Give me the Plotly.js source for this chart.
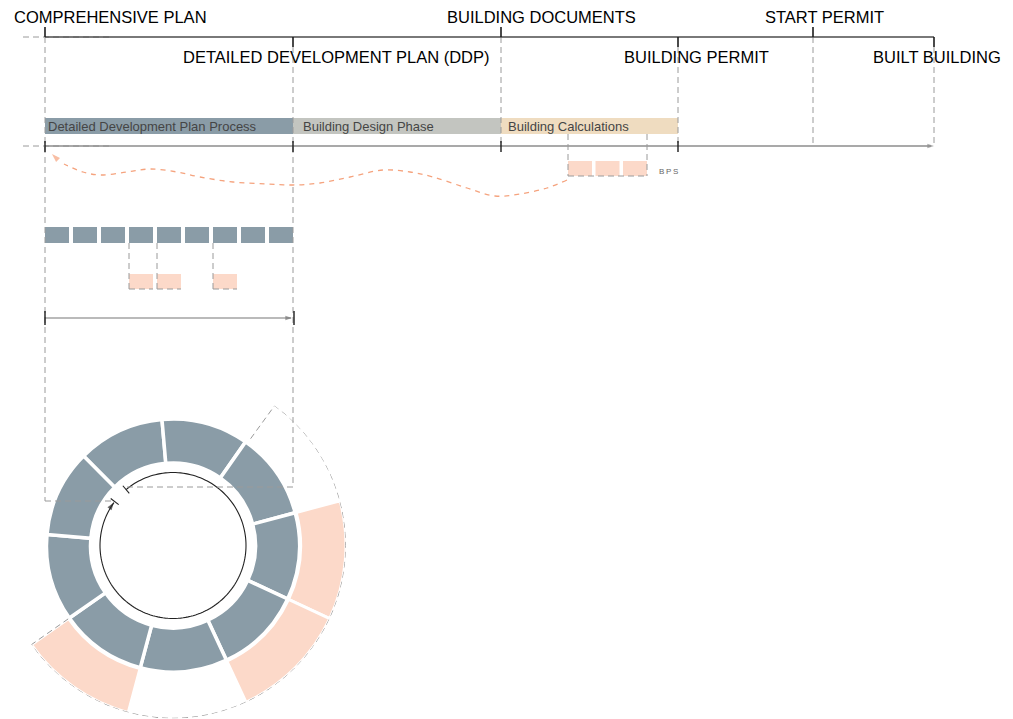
<!DOCTYPE html>
<html>
<head>
<meta charset="utf-8">
<script src="https://cdn.plot.ly/plotly-3.0.1.min.js"></script>
<style>
html,body{margin:0;padding:0;background:#fff;}
#chart{width:1013px;height:719px;}
</style>
</head>
<body>
<div id="chart"></div>
<script>
// ================= DATA =================
const milestoneNames = ['COMPREHENSIVE PLAN', 'DETAILED DEVELOPMENT PLAN (DDP)', 'BUILDING DOCUMENTS', 'BUILDING PERMIT', 'START PERMIT', 'BUILT BUILDING'];
const milestoneAt = [45, 293, 501, 678, 813, 934];     // position on the timeline
const milestoneRow = [1, 2, 1, 2, 1, 2];              // upper / lower label row

const phaseNames = ['Detailed Development Plan Process', 'Building Design Phase', 'Building Calculations'];
const phaseFrom = [0, 1, 2];                          // milestone index where phase starts
const phaseTo = [1, 2, 3];                            // milestone index where phase ends

const ddpSteps = [1, 2, 3, 4, 5, 6, 7, 8, 9];
const ddpFlagged = [false, false, false, true, true, false, true, false, false];

const bpsSteps = [1, 2, 3];
const bpsLabel = 'B\u2009P\u2009S';

const feedbackX = [567, 547, 520, 495, 467, 433, 410, 383, 350, 320, 293, 267, 233, 200, 177, 150, 127, 100, 83, 64];
const feedbackY = [180, 188, 194, 196, 188, 177, 172, 170, 177, 183, 185, 184, 182, 177, 172, 169, 172, 175, 172, 164];

// ================= LAYOUT CONSTANTS =================
const W = 1013, H = 719;
const G = {
  topY: 37, mainY: 146, row1Y: 17, row2Y: 57, tick: 10,
  labelLeft: [12, 181, 445, 622, 763, 871],
  labelSize: 16.5,
  dashLeft: 23, dashRight: 113,
  phaseY: 126, phaseH: 16, phaseTextPad: [1, 8, 5],
  stepY: 235, stepH: 16, stepW: 24, stepGap: 4,
  flagY: 281.5, flagH: 15,
  bpsStart: 568, bpsW: 24, bpsPitch: 27.5, bpsY: 168.5, bpsH: 15,
  spanY: 318,
  rectLeftBottom: 501, rectRightBottom: 487,
  cx: 173, cy: 545.5, R: 173,
  grayBase: 82.5, grayLen: 44, pinkBase: 127.5, pinkLen: 45.5,
  stepAngle: 40, ringStart: 315,
  loopR: 73, loopStart: 320, loopEnd: 666, tickEnd: 307,
  outlineR: 172.8, outlineFrom: 36, outlineTo: 235
};
const C = {
  ink: '#1c1c1c', top: '#4d4d4d', axis: '#8c8c8c', dash: '#9a9a9a',
  slate: '#8a9ca7', stone: '#c3c5c0', sand: '#efdcc0', blush: '#fcd9c9',
  orange: '#f5a37e', text: '#454545'
};
const FONT = 'Liberation Sans, Arial, Helvetica, sans-serif';
const phaseColors = [C.slate, C.stone, C.sand];

// ================= SHAPES =================
const shapes = [];
function seg(x0, y0, x1, y1, color, width, dash) {
  shapes.push({type: 'line', xref: 'x', yref: 'y', x0: x0, y0: y0, x1: x1, y1: y1, layer: 'above',
    line: {color: color, width: width, dash: dash || 'solid'}});
}
const DASH = '6px,4px';
const x0 = milestoneAt[0], xEnd = milestoneAt[milestoneAt.length - 1];

// left dashed extensions
seg(G.dashLeft, G.topY, G.dashRight, G.topY, C.dash, 1, DASH);
seg(G.dashLeft, G.mainY, G.dashRight, G.mainY, C.dash, 1, DASH);

// dashed verticals from milestones
milestoneAt.forEach((x, i) => {
  const yTop = milestoneRow[i] === 1 ? G.topY : G.topY + G.tick;
  let yBot = G.mainY;
  if (i === 0) yBot = G.rectLeftBottom;
  if (i === 1) yBot = G.rectRightBottom;
  seg(x, yTop, x, yBot, C.dash, 1, DASH);
});
// dashed frame bottoms linking to the loop
const loopPt = (deg, r) => [G.cx + r * Math.sin(deg * Math.PI / 180), G.cy - r * Math.cos(deg * Math.PI / 180)];
seg(milestoneAt[0], G.rectLeftBottom, loopPt(G.tickEnd, G.loopR)[0], G.rectLeftBottom, C.dash, 1, DASH);
seg(milestoneAt[1], G.rectRightBottom, loopPt(G.loopStart, G.loopR)[0], G.rectRightBottom, C.dash, 1, DASH);

// top line and main axis
seg(x0, G.topY, xEnd, G.topY, C.top, 1.3);
seg(x0, G.mainY, xEnd - 3, G.mainY, C.axis, 1.3);
// milestone ticks
milestoneAt.forEach((x, i) => {
  if (milestoneRow[i] === 1) seg(x, G.topY - G.tick, x, G.topY, C.ink, 1.6);
  else seg(x, G.topY, x, G.topY + G.tick, C.ink, 1.6);
});
// main axis ticks at phase borders
[...new Set(phaseFrom.concat(phaseTo))].forEach(i => seg(milestoneAt[i], G.mainY - 5, milestoneAt[i], G.mainY + 6, C.ink, 1.4));

// step positions
const stepBase = ddpSteps.map((s, i) => milestoneAt[0] + i * (G.stepW + G.stepGap));
// dashed connectors to flagged steps
ddpFlagged.forEach((f, i) => {
  if (!f) return;
  const xl = stepBase[i];
  seg(xl, G.stepY + G.stepH / 2, xl, G.flagY + G.flagH / 2, C.dash, 1, DASH);
  seg(xl, G.flagY + G.flagH / 2, xl + G.stepW, G.flagY + G.flagH / 2, C.dash, 1, DASH);
});
// BPS dashed frame
const bpsBase = bpsSteps.map((s, i) => G.bpsStart + i * G.bpsPitch);
const bpsRight = bpsBase[bpsBase.length - 1] + G.bpsW;
seg(G.bpsStart, G.phaseY + G.phaseH / 2, G.bpsStart, G.bpsY + G.bpsH / 2, C.dash, 1, DASH);
seg(bpsRight, G.phaseY + G.phaseH / 2, bpsRight, G.bpsY + G.bpsH / 2, C.dash, 1, DASH);
seg(G.bpsStart, G.bpsY + G.bpsH / 2, bpsRight, G.bpsY + G.bpsH / 2, C.dash, 1, DASH);

// span arrow under steps
seg(milestoneAt[0], G.spanY, milestoneAt[1] - 2, G.spanY, '#777', 1.2);
seg(milestoneAt[0], G.spanY - 7, milestoneAt[0], G.spanY + 7, C.ink, 1.4);
seg(milestoneAt[1] + 1, G.spanY - 7, milestoneAt[1] + 1, G.spanY + 7, C.ink, 1.4);

// ================= TRACES =================
const traces = [];
// phase bars
traces.push({
  type: 'bar', orientation: 'h', hoverinfo: 'skip',
  y: phaseNames.map(() => G.phaseY),
  base: phaseFrom.map(i => milestoneAt[i]),
  x: phaseNames.map((n, k) => milestoneAt[phaseTo[k]] - milestoneAt[phaseFrom[k]]),
  width: phaseNames.map(() => G.phaseH),
  marker: {color: phaseColors, line: {width: 0}}
});
// DDP steps
traces.push({
  type: 'bar', orientation: 'h', hoverinfo: 'skip',
  y: ddpSteps.map(() => G.stepY), base: stepBase, x: ddpSteps.map(() => G.stepW),
  width: ddpSteps.map(() => G.stepH), marker: {color: C.slate, line: {width: 0}}
});
// flagged steps
const flaggedIdx = ddpSteps.map((s, i) => i).filter(i => ddpFlagged[i]);
traces.push({
  type: 'bar', orientation: 'h', hoverinfo: 'skip',
  y: flaggedIdx.map(() => G.flagY), base: flaggedIdx.map(i => stepBase[i]), x: flaggedIdx.map(() => G.stepW),
  width: flaggedIdx.map(() => G.flagH), marker: {color: C.blush, line: {width: 0}}
});
// BPS steps
traces.push({
  type: 'bar', orientation: 'h', hoverinfo: 'skip',
  y: bpsSteps.map(() => G.bpsY), base: bpsBase, x: bpsSteps.map(() => G.bpsW),
  width: bpsSteps.map(() => G.bpsH), marker: {color: C.blush, line: {width: 0}}
});
// feedback curve
traces.push({
  type: 'scatter', mode: 'lines', hoverinfo: 'skip', x: feedbackX, y: feedbackY,
  line: {color: C.orange, width: 1.3, dash: '5px,5px', shape: 'spline', smoothing: 1}
});

// ring (polar)
const stepTheta = ddpSteps.map((s, i) => G.ringStart + (i + 0.5) * G.stepAngle);
traces.push({
  type: 'barpolar', subplot: 'polar', hoverinfo: 'skip',
  theta: flaggedIdx.map(i => stepTheta[i]), r: flaggedIdx.map(() => G.pinkLen), base: flaggedIdx.map(() => G.pinkBase),
  width: flaggedIdx.map(() => G.stepAngle), marker: {color: C.blush, line: {color: '#fff', width: 3}}
});
traces.push({
  type: 'barpolar', subplot: 'polar', hoverinfo: 'skip',
  theta: stepTheta, r: ddpSteps.map(() => G.grayLen), base: ddpSteps.map(() => G.grayBase),
  width: ddpSteps.map(() => G.stepAngle), marker: {color: C.slate, line: {color: '#fff', width: 3.5}}
});
// dashed outline of the flagged sector
const outTheta = [G.outlineFrom, G.outlineFrom], outR = [132, G.outlineR];
for (let a = G.outlineFrom; a <= G.outlineTo; a += 2) { outTheta.push(a); outR.push(G.outlineR); }
outTheta.push(G.outlineTo, G.outlineTo); outR.push(G.outlineR, 128);
traces.push({
  type: 'scatterpolar', subplot: 'polar', mode: 'lines', hoverinfo: 'skip', cliponaxis: false,
  theta: outTheta, r: outR, line: {color: C.dash, width: 1, dash: DASH}
});
// loop circle
const loopTheta = [], loopR = [];
for (let a = G.loopStart; a <= G.loopEnd; a += 2) { loopTheta.push(a); loopR.push(G.loopR); }
traces.push({
  type: 'scatterpolar', subplot: 'polar', mode: 'lines', hoverinfo: 'skip', cliponaxis: false,
  theta: loopTheta, r: loopR, line: {color: '#222', width: 1.1}
});
traces.push({
  type: 'scatterpolar', subplot: 'polar', mode: 'lines', hoverinfo: 'skip', cliponaxis: false,
  theta: [G.loopStart, G.loopStart, null, G.tickEnd, G.tickEnd], r: [G.loopR - 5, G.loopR + 5, null, G.loopR - 5, G.loopR + 5],
  line: {color: '#222', width: 1.1}
});

// arrowheads (cartesian)
const loopTip = loopPt(G.loopEnd, G.loopR);
traces.push({
  type: 'scatter', mode: 'markers', hoverinfo: 'skip', cliponaxis: false,
  x: [xEnd, milestoneAt[1] - 1, 52, loopTip[0]],
  y: [G.mainY, G.spanY, 154, loopTip[1]],
  marker: {symbol: 'arrow', size: [7, 7, 9, 8], angle: [90, 90, -45, G.loopEnd + 90],
    color: ['#8c8c8c', '#777', C.orange, '#222'], line: {width: 0}}
});

// ================= ANNOTATIONS =================
const annotations = [];
milestoneNames.forEach((n, i) => annotations.push({
  x: G.labelLeft[i], y: milestoneRow[i] === 1 ? G.row1Y : G.row2Y, xref: 'x', yref: 'y',
  text: n, showarrow: false, xanchor: 'left', yanchor: 'middle',
  font: {family: FONT, size: G.labelSize, color: '#000'}
}));
phaseNames.forEach((n, k) => annotations.push({
  x: milestoneAt[phaseFrom[k]] + G.phaseTextPad[k], y: G.phaseY, xref: 'x', yref: 'y',
  text: n, showarrow: false, xanchor: 'left', yanchor: 'middle',
  font: {family: FONT, size: 13, color: C.text}
}));
annotations.push({
  x: bpsRight + 10, y: 171, xref: 'x', yref: 'y', text: bpsLabel, showarrow: false,
  xanchor: 'left', yanchor: 'middle', font: {family: FONT, size: 8, color: '#666'}
});

// ================= LAYOUT =================
const layout = {
  width: W, height: H, margin: {l: 0, r: 0, t: 0, b: 0, pad: 0},
  paper_bgcolor: '#fff', plot_bgcolor: 'rgba(0,0,0,0)',
  showlegend: false, hovermode: false, barmode: 'overlay', dragmode: false,
  xaxis: {range: [0, W], visible: false, showgrid: false, zeroline: false, fixedrange: true},
  yaxis: {range: [H, 0], visible: false, showgrid: false, zeroline: false, fixedrange: true},
  polar: {
    domain: {x: [(G.cx - G.R) / W, (G.cx + G.R) / W], y: [(H - G.cy - G.R) / H, (H - G.cy + G.R) / H]},
    bgcolor: 'rgba(0,0,0,0)',
    radialaxis: {visible: false, range: [0, G.R]},
    angularaxis: {visible: false, rotation: 90, direction: 'clockwise'}
  },
  shapes: shapes,
  annotations: annotations,
  font: {family: FONT}
};

Plotly.newPlot('chart', traces, layout, {staticPlot: true, displayModeBar: false});
</script>
</body>
</html>
